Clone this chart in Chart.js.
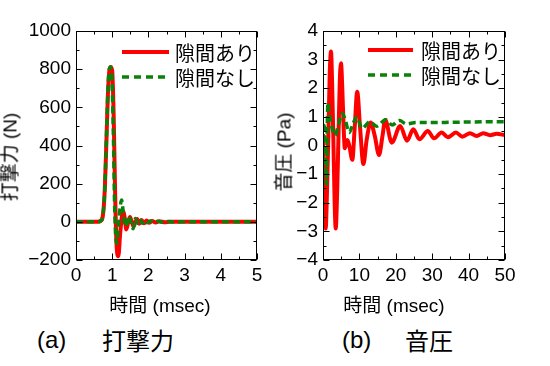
<!DOCTYPE html>
<html><head><meta charset="utf-8">
<script src="https://cdn.jsdelivr.net/npm/chart.js@4.4.1/dist/chart.umd.min.js"></script>
<style>
html,body{margin:0;padding:0;background:#fff;}
#wrap{position:relative;width:550px;height:366px;overflow:hidden;font-family:"Liberation Sans","Noto Sans CJK JP",sans-serif;color:#000;}
canvas{position:absolute;top:0;}
.t{position:absolute;white-space:nowrap;line-height:1;}
.c{transform:translate(-50%,-50%);}
.r{transform:translate(-50%,-50%) rotate(-90deg);}
.m{transform:translateY(-50%);}
</style></head><body>
<div id="wrap">
<canvas id="c1" width="275" height="300" style="left:0"></canvas>
<canvas id="c2" width="275" height="300" style="left:275px"></canvas>
<div class="t r" style="left:10px;top:157px;font-size:19px">打撃力 (N)</div>
<div class="t r" style="left:284px;top:152px;font-size:19px">音圧 (Pa)</div>
<div class="t c" style="left:160px;top:305px;font-size:19px">時間 (msec)</div>
<div class="t c" style="left:394px;top:305px;font-size:19px">時間 (msec)</div>
<div class="t m" style="left:37px;top:340px;font-size:24px">(a)</div>
<div class="t m" style="left:102px;top:340px;font-size:24px;font-family:'Noto Sans CJK JP'">打撃力</div>
<div class="t m" style="left:342px;top:340px;font-size:24px">(b)</div>
<div class="t m" style="left:405px;top:340px;font-size:24px;font-family:'Noto Sans CJK JP'">音圧</div>
</div>
<script>
// ---- data ----
const seriesNames = ['隙間あり', '隙間なし'];

// (a) impact force [N] vs time [msec]
const forceTimeGap = [0, 0.6, 0.68, 0.74, 0.79, 0.84, 0.88, 0.92, 0.96, 1.00, 1.04, 1.08, 1.12, 1.17, 1.22, 1.27, 1.31, 1.35, 1.39, 1.44, 1.49, 1.54, 1.59, 1.64, 1.69, 1.75, 1.81, 1.88, 1.95, 2.02, 2.1, 2.2, 2.3, 2.45, 2.6, 2.8, 3.0, 5.0];
const forceGap     = [0, 0, 5, 30, 150, 420, 660, 790, 812, 790, 560, 160, -120, -180, -60, 30, 55, 15, -40, -5, 25, 0, -25, 0, 15, -10, 10, -8, 7, -5, 4, -3, 3, -2, 1, 0, 0, 0];
const forceTimeNoGap = [0, 0.6, 0.68, 0.74, 0.79, 0.84, 0.88, 0.92, 0.955, 0.99, 1.03, 1.07, 1.12, 1.17, 1.21, 1.26, 1.30, 1.34, 1.38, 1.42, 1.46, 1.52, 1.58, 1.64, 1.70, 1.76, 1.83, 1.9, 1.97, 2.05, 2.15, 2.25, 2.4, 2.55, 2.7, 2.9, 5.0];
const forceNoGap     = [0, 0, 5, 30, 150, 430, 680, 800, 812, 760, 480, 60, -113, -30, 60, 114, 60, 0, -25, 10, 30, -5, -36, 18, -8, 12, -8, 8, -5, 5, -3, 3, -2, 2, -1, 0, 0];

// (b) sound pressure [Pa] vs time [msec]
const pressTimeGap = [0, 0.35, 0.73, 1.1, 1.5, 1.85, 2.2, 2.5, 2.85, 3.2, 3.5, 3.85, 4.25, 4.6, 4.95, 5.3, 5.65, 6.0, 6.7, 7.3, 8.05, 8.7, 9.4, 10.2, 11.1, 12.0, 13.1, 14.2, 15.4, 16.3, 17.1, 18.9, 21.2, 23.1, 24.8, 26.5, 28.8, 30.5, 32.6, 34.3, 36.5, 38.3, 40.4, 42.2, 44.0, 45.9, 47.7, 50];
const pressGap     = [0.4, -1.5, -2.9, -1.6, 0.5, 2.5, 3.28, 2.2, 0.2, -2.0, -2.9, -1.8, 0.3, 2.2, 2.87, 2.0, 0.7, -0.1, 0.19, -0.05, -0.5, 0.6, 1.88, 0.6, -0.65, 0.2, 0.8, 0.35, -0.33, 0.3, 0.89, 0.1, 0.68, 0.17, 0.57, 0.22, 0.51, 0.25, 0.45, 0.29, 0.45, 0.31, 0.43, 0.33, 0.43, 0.36, 0.41, 0.36];
const pressTimeNoGap = [0, 0.4, 0.7, 0.95, 1.15, 1.35, 1.7, 2.2, 2.8, 3.3, 4.2, 5.3, 6.2, 7.2, 8.2, 9.3, 10.7, 12.9, 14.7, 17.2, 19.0, 21.0, 23.0, 25.5, 30, 35, 40, 45, 50];
const pressNoGap     = [0.72, 0.65, -0.5, -1.35, 0.5, 1.5, 1.1, 0.8, 0.45, 0.35, 0.7, 1.13, 0.85, 0.45, 0.75, 1.0, 0.6, 0.83, 0.67, 0.9, 0.72, 0.87, 0.75, 0.8, 0.8, 0.81, 0.82, 0.83, 0.83];

// tick values
const forceXTicks = [0, 1, 2, 3, 4, 5];
const forceYTicks = [-200, 0, 200, 400, 600, 800, 1000];
const pressXTicks = [0, 10, 20, 30, 40, 50];
const pressYTicks = [-4, -3, -2, -1, 0, 1, 2, 3, 4];

// ---- rendering ----
const RED = '#ff0000', GREEN = '#0a820a';
const TICKFONT = {family: 'Liberation Sans', size: 19};
const fmt = v => String(v).replace('-', '\u2212');
const pts = (xs, ys) => xs.map((x, i) => ({x, y: ys[i]}));
const mid = arr => arr.slice(1).map((v, i) => (v + arr[i]) / 2);

const framePlugin = {
  id: 'frame',
  afterDatasetsDraw(chart, args, o) {
    const {ctx, chartArea: a, scales: {x, y}} = chart;
    ctx.save();
    ctx.strokeStyle = '#000';
    ctx.lineWidth = 1;
    const L = Math.round(a.left) + 0.5, R = Math.round(a.right) - 0.5;
    const T = Math.round(a.top) + 0.5, B = Math.round(a.bottom) - 0.5;
    ctx.strokeRect(L, T, R - L, B - T);
    ctx.beginPath();
    const xt = (vals, len) => vals.forEach(v => {
      const p = Math.round(x.getPixelForValue(v)) + 0.5;
      ctx.moveTo(p, B); ctx.lineTo(p, B - len);
      ctx.moveTo(p, T); ctx.lineTo(p, T + len);
    });
    const yt = (vals, len) => vals.forEach(v => {
      const p = Math.round(y.getPixelForValue(v)) + 0.5;
      ctx.moveTo(L, p); ctx.lineTo(L + len, p);
      ctx.moveTo(R, p); ctx.lineTo(R - len, p);
    });
    xt(o.xMajor, 6); xt(mid(o.xMajor), 3);
    yt(o.yMajor, 6); yt(mid(o.yMajor), 3);
    ctx.stroke();
    // legend
    o.legend.forEach((it, i) => {
      const yy = a.top + o.ly + i * 25;
      ctx.beginPath();
      ctx.strokeStyle = it.color;
      ctx.lineWidth = it.width;
      ctx.setLineDash(it.dash);
      ctx.moveTo(a.left + o.lx0, yy);
      ctx.lineTo(a.left + o.lx1, yy);
      ctx.stroke();
      ctx.setLineDash([]);
      ctx.fillStyle = '#000';
      ctx.font = '20px "Noto Sans CJK JP"';
      ctx.textBaseline = 'middle';
      ctx.fillText(it.label, a.left + o.tx, yy + 1);
    });
    ctx.restore();
  }
};

function makeChart(id, cfg) {
  return new Chart(document.getElementById(id), {
    type: 'line',
    data: {
      datasets: [
        {data: pts(cfg.tNoGap, cfg.vNoGap), borderColor: GREEN, borderWidth: 3.5, borderDash: [7, 4], cubicInterpolationMode: 'monotone', pointRadius: 0},
        {data: pts(cfg.tGap, cfg.vGap), borderColor: RED, borderWidth: 4, cubicInterpolationMode: 'monotone', pointRadius: 0}
      ]
    },
    options: {
      responsive: false, animation: false, devicePixelRatio: 1,
      layout: {padding: {top: 31, right: cfg.padR, left: 0, bottom: 0}},
      plugins: {
        legend: {display: false}, tooltip: {enabled: false},
        frame: {
          xMajor: cfg.xTicks, yMajor: cfg.yTicks,
          lx0: cfg.lx0, lx1: cfg.lx1, tx: cfg.tx, ly: cfg.ly,
          legend: [
            {label: seriesNames[0], color: RED, width: 4, dash: []},
            {label: seriesNames[1], color: GREEN, width: 3.5, dash: [7, 5]}
          ]
        }
      },
      scales: {
        x: {
          type: 'linear', min: cfg.xTicks[0], max: cfg.xTicks[cfg.xTicks.length - 1],
          afterBuildTicks: s => { s.ticks = cfg.xTicks.map(v => ({value: v})); },
          afterFit: s => { s.height = 40; },
          grid: {display: false, drawTicks: false}, border: {display: false},
          ticks: {font: TICKFONT, color: '#000', padding: 4, maxRotation: 0, autoSkip: false, callback: fmt}
        },
        y: {
          type: 'linear', min: cfg.yTicks[0], max: cfg.yTicks[cfg.yTicks.length - 1],
          afterBuildTicks: s => { s.ticks = cfg.yTicks.map(v => ({value: v})); },
          afterFit: s => { s.width = cfg.yw; },
          grid: {display: false, drawTicks: false}, border: {display: false},
          ticks: {font: TICKFONT, color: '#000', padding: 5, autoSkip: false, callback: fmt}
        }
      }
    },
    plugins: [framePlugin]
  });
}

makeChart('c1', {
  tGap: forceTimeGap, vGap: forceGap, tNoGap: forceTimeNoGap, vNoGap: forceNoGap,
  xTicks: forceXTicks, yTicks: forceYTicks, yw: 76, padR: 18,
  lx0: 46, lx1: 93, tx: 99, ly: 21
});
makeChart('c2', {
  tGap: pressTimeGap, vGap: pressGap, tNoGap: pressTimeNoGap, vNoGap: pressNoGap,
  xTicks: pressXTicks, yTicks: pressYTicks, yw: 48, padR: 45,
  lx0: 45, lx1: 90, tx: 98, ly: 19
});
</script>
</body></html>
